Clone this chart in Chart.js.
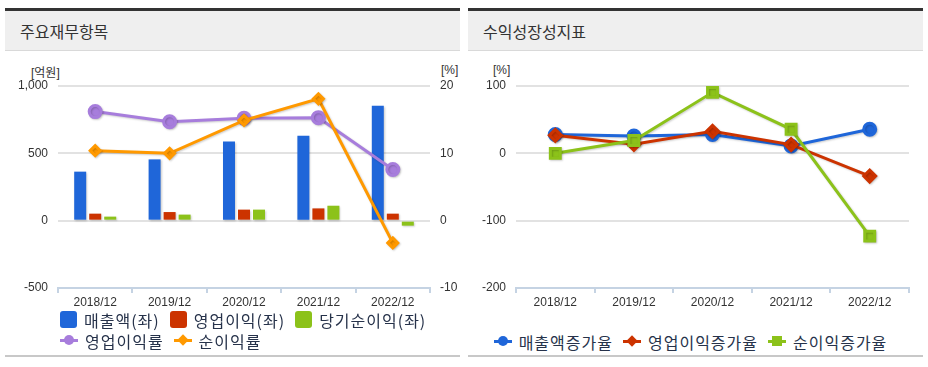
<!DOCTYPE html>
<html>
<head>
<meta charset="utf-8">
<script src="https://cdn.jsdelivr.net/npm/chart.js@4"></script>
<style>
body{margin:0;width:928px;height:367px;background:#fff;position:relative;overflow:hidden;font-family:'Liberation Sans','Noto Sans CJK KR',sans-serif;}
.panel{position:absolute;top:8px;width:455px;height:344px;border-top:3px solid #333;border-bottom:2px solid #c8c8c8;}
.head{height:39px;line-height:40px;background:#efefef;border-bottom:1px solid #d9d9d9;font-size:16px;color:#333;padding-left:15px;font-family:'Noto Sans CJK KR',sans-serif;}
canvas{position:absolute;}
.unit{position:absolute;font-size:12px;color:#333;}
.legend{position:absolute;display:flex;flex-wrap:wrap;font-size:16px;letter-spacing:1px;color:#26324a;font-family:'Noto Sans CJK KR',sans-serif;}
.item{display:flex;align-items:center;margin-right:10px;height:21px;}
.box{width:17px;height:17px;border-radius:3px;margin-right:7px;}
.ln{position:relative;width:18px;height:3px;margin-right:7px;}
.ln i{position:absolute;left:4px;top:-4px;width:10px;height:10px;}
</style>
</head>
<body>
<div class="panel" style="left:5px"><div class="head">주요재무항목</div></div>
<div class="panel" style="left:468px"><div class="head">수익성장성지표</div></div>
<div class="unit" style="left:31px;top:63px">[억원]</div>
<div class="unit" style="left:441px;top:63px">[%]</div>
<div class="unit" style="left:493px;top:63px">[%]</div>
<canvas id="left" width="455" height="250" style="left:5px;top:60px"></canvas>
<canvas id="right" width="455" height="250" style="left:468px;top:60px"></canvas>
<div class="legend" id="legL" style="left:60px;top:309px;width:395px"></div>
<div class="legend" id="legR" style="left:468px;top:331px;width:455px;justify-content:center"></div>
<script>
const years = ['2018/12', '2019/12', '2020/12', '2021/12', '2022/12'];

// 주요재무항목 (억원 / %)
const sales = [364, 455, 587, 631, 854];
const opIncome = [52, 64, 82, 91, 52];
const netIncome = [30, 45, 82, 111, -37];
const opMargin = [16.2, 14.7, 15.2, 15.3, 7.6];
const netMargin = [10.4, 10.0, 14.9, 18.1, -3.3];

// 수익성장성지표 (%)
const salesGrowth = [28, 25.7, 28, 11, 35.7];
const opGrowth = [26.7, 13.4, 32.7, 13, -33.7];
const netGrowth = [0, 19, 90.6, 35.7, -123];

const leftTicks = [-500, 0, 500, 1000];
const pctTicks = [-10, 0, 10, 20];
const growthTicks = [-200, -100, 0, 100];

const BLUE = '#1f66d9', RED = '#cc3300', GREEN = '#8cc21a', PURPLE = '#a77ddc', ORANGE = '#ff9900';

Chart.defaults.font.family = "'Liberation Sans', 'Noto Sans CJK KR', sans-serif";
Chart.defaults.font.size = 12;
Chart.defaults.color = '#333';

const shadow = {
  id: 'shadow',
  beforeDatasetsDraw(chart) {
    const c = chart.ctx;
    c.save();
    c.shadowColor = 'rgba(0,0,0,0.2)';
    c.shadowBlur = 2;
    c.shadowOffsetX = 1;
    c.shadowOffsetY = 1;
  },
  afterDatasetsDraw(chart) {
    chart.ctx.restore();
  }
};

function xAxis() {
  return {
    offset: true,
    grid: { offset: true, drawOnChartArea: false, tickLength: 5, color: '#c5d3e3', lineWidth: 2 },
    border: { color: '#c5d3e3', width: 2 },
    ticks: { padding: 2, maxRotation: 0 },
    afterFit: s => { s.height = 22; }
  };
}

function yAxis(ticks, pos, width, grid) {
  return {
    position: pos,
    min: ticks[0],
    max: ticks[ticks.length - 1],
    afterBuildTicks: s => { s.ticks = ticks.map(v => ({ value: v })); },
    grid: { display: grid, drawTicks: false, color: '#e2e2e2', lineWidth: 2 },
    border: { display: false },
    ticks: { padding: 10 },
    afterFit: s => { s.width = width; }
  };
}

new Chart(document.getElementById('left'), {
  type: 'bar',
  data: {
    labels: years,
    datasets: [
      { type: 'line', label: '순이익률', data: netMargin, yAxisID: 'y2', borderColor: ORANGE, backgroundColor: ORANGE, borderWidth: 3, pointStyle: 'rectRot', pointRadius: 5, order: 0 },
      { type: 'line', label: '영업이익률', data: opMargin, yAxisID: 'y2', borderColor: PURPLE, backgroundColor: PURPLE, borderWidth: 3, pointStyle: 'circle', pointRadius: 6, order: 1 },
      { label: '매출액(좌)', data: sales, backgroundColor: BLUE, order: 2 },
      { label: '영업이익(좌)', data: opIncome, backgroundColor: RED, order: 2 },
      { label: '당기순이익(좌)', data: netIncome, backgroundColor: GREEN, order: 2 }
    ]
  },
  options: {
    responsive: false,
    animation: false,
    layout: { padding: { top: 26, left: 0, right: 0, bottom: 0 } },
    datasets: { bar: { categoryPercentage: 0.605, barPercentage: 0.8 } },
    plugins: { legend: { display: false }, tooltip: { enabled: false } },
    scales: {
      x: xAxis(),
      y: yAxis(leftTicks, 'left', 53, true),
      y2: yAxis(pctTicks, 'right', 30, false)
    }
  },
  plugins: [shadow]
});

new Chart(document.getElementById('right'), {
  type: 'line',
  data: {
    labels: years,
    datasets: [
      { label: '순이익증가율', data: netGrowth, borderColor: GREEN, backgroundColor: GREEN, borderWidth: 3, pointStyle: 'rect', pointRadius: 7, order: 0 },
      { label: '영업이익증가율', data: opGrowth, borderColor: RED, backgroundColor: RED, borderWidth: 3, pointStyle: 'rectRot', pointRadius: 6, order: 1 },
      { label: '매출액증가율', data: salesGrowth, borderColor: BLUE, backgroundColor: BLUE, borderWidth: 3, pointStyle: 'circle', pointRadius: 6, order: 2 }
    ]
  },
  options: {
    responsive: false,
    animation: false,
    layout: { padding: { top: 26, left: 0, right: 14, bottom: 0 } },
    plugins: { legend: { display: false }, tooltip: { enabled: false } },
    scales: {
      x: xAxis(),
      y: yAxis(growthTicks, 'left', 48, true)
    }
  },
  plugins: [shadow]
});

function legend(id, items) {
  const el = document.getElementById(id);
  items.forEach(([name, color, kind]) => {
    const it = document.createElement('div');
    it.className = 'item';
    let mark;
    if (kind === 'box') {
      mark = `<span class="box" style="background:${color}"></span>`;
    } else {
      const shape = kind === 'circle' ? 'border-radius:50%' : kind === 'diamond' ? 'transform:rotate(45deg) scale(0.8)' : '';
      mark = `<span class="ln" style="background:${color}"><i style="background:${color};${shape}"></i></span>`;
    }
    it.innerHTML = mark + `<span>${name}</span>`;
    el.appendChild(it);
  });
}

legend('legL', [
  ['매출액(좌)', BLUE, 'box'], ['영업이익(좌)', RED, 'box'], ['당기순이익(좌)', GREEN, 'box'],
  ['영업이익률', PURPLE, 'circle'], ['순이익률', ORANGE, 'diamond']
]);
legend('legR', [
  ['매출액증가율', BLUE, 'circle'], ['영업이익증가율', RED, 'diamond'], ['순이익증가율', GREEN, 'square']
]);
</script>
</body>
</html>
